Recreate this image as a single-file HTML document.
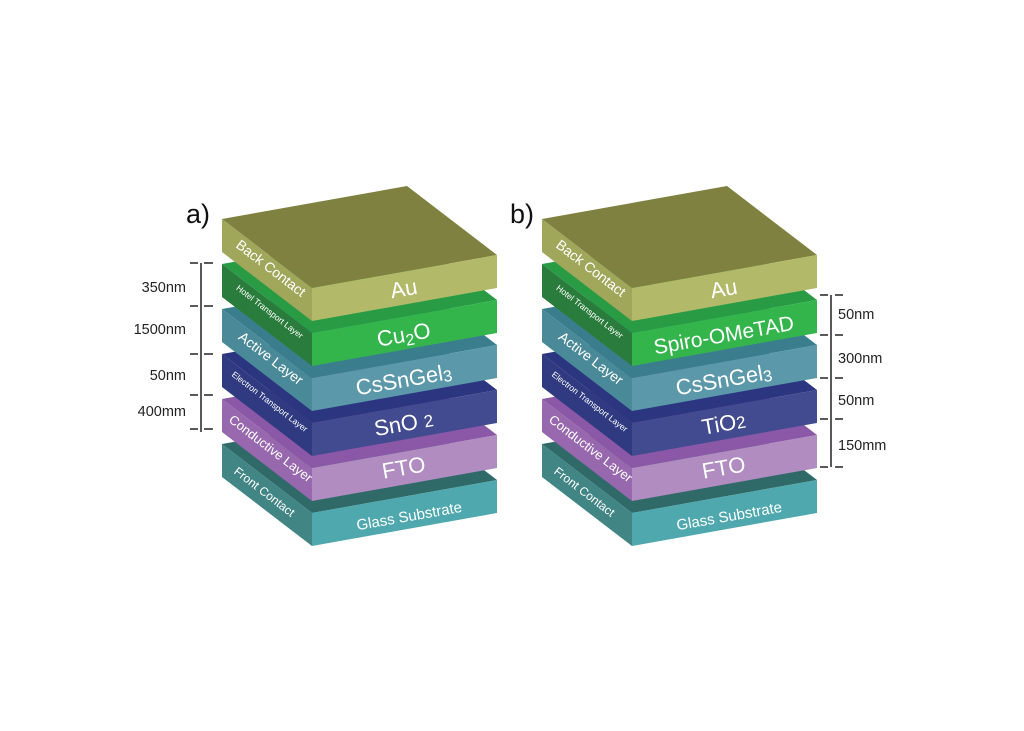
<!DOCTYPE html>
<html><head><meta charset="utf-8"><style>
html,body{margin:0;padding:0;background:#fff;width:1024px;height:731px;overflow:hidden}
svg{display:block}
text{font-family:"Liberation Sans",sans-serif;}
.w{fill:#fff}
</style></head><body>
<svg width="1024" height="731" viewBox="0 0 1024 731" xmlns="http://www.w3.org/2000/svg">
<defs>
<g id="g6">
  <!-- Glass Y=513 -->
  <polygon points="312,513 497,480 407,411 222,444" fill="#2f6a68"/>
  <polygon points="222,444 312,513 312,546 222,477" fill="#418584"/>
  <polygon points="312,513 497,480 497,513 312,546" fill="#4ea8ae"/>
  <!-- FTO Y=468 -->
  <polygon points="312,468 497,435 407,366 222,399" fill="#8a58a6"/>
  <polygon points="222,399 312,468 312,501 222,432" fill="#9868ae"/>
  <polygon points="312,468 497,435 497,468 312,501" fill="#b08cc0"/>
  <!-- SnO2 Y=423 -->
  <polygon points="312,423 497,390 407,321 222,354" fill="#2c3580"/>
  <polygon points="222,354 312,423 312,456 222,387" fill="#2f3a80"/>
  <polygon points="312,423 497,390 497,423 312,456" fill="#434b90"/>
  <!-- CsSnGeI3 Y=378 -->
  <polygon points="312,378 497,345 407,276 222,309" fill="#3a7e8e"/>
  <polygon points="222,309 312,378 312,411 222,342" fill="#4a8a98"/>
  <polygon points="312,378 497,345 497,378 312,411" fill="#5b98aa"/>
  <!-- Cu2O Y=333 -->
  <polygon points="312,333 497,300 407,231 222,264" fill="#2a9b45"/>
  <polygon points="222,264 312,333 312,366 222,297" fill="#2a7c3c"/>
  <polygon points="312,333 497,300 497,333 312,366" fill="#33b54c"/>
  <!-- Au Y=288 -->
  <polygon points="312,288 497,255 407,186 222,219" fill="#7e8140"/>
  <polygon points="222,219 312,288 312,321 222,252" fill="#a0a65a"/>
  <polygon points="312,288 497,255 497,288 312,321" fill="#b2ba6a"/>
  <!-- left-face labels -->
  <text class="w" font-size="14" text-anchor="middle" transform="translate(268,272) rotate(37.5)">Back Contact</text>
  <text class="w" font-size="8.5" text-anchor="middle" transform="translate(268,314) rotate(37.5)">Hotel Transport Layer</text>
  <text class="w" font-size="14" text-anchor="middle" transform="translate(268,362) rotate(37.5)">Active Layer</text>
  <text class="w" font-size="8.5" text-anchor="middle" transform="translate(268,404) rotate(37.5)">Electron Transport Layer</text>
  <text class="w" font-size="13" text-anchor="middle" transform="translate(268,452) rotate(37.5)">Conductive Layer</text>
  <text class="w" font-size="12" text-anchor="middle" transform="translate(262,495) rotate(37.5)">Front Contact</text>
  <text class="w" font-size="15" text-anchor="middle" transform="translate(410,521) rotate(-10)">Glass Substrate</text>
  <text class="w" font-size="22" text-anchor="middle" transform="translate(405,475) rotate(-10)">FTO</text>
</g>
</defs>

<!-- a -->
<use href="#g6"/>
<text font-size="27" x="186" y="223" fill="#111">a)</text>
<text class="w" font-size="22" text-anchor="middle" transform="translate(405,296) rotate(-10)">Au</text>
<text class="w" font-size="22" text-anchor="middle" transform="translate(405,342) rotate(-10)">Cu<tspan font-size="16" dy="4">2</tspan><tspan dy="-4">O</tspan></text>
<text class="w" font-size="22" text-anchor="middle" transform="translate(405,387) rotate(-10)">CsSnGel<tspan font-size="16" dy="2">3</tspan></text>
<text class="w" font-size="22" text-anchor="middle" transform="translate(405,431) rotate(-10)">SnO <tspan font-size="17">2</tspan></text>

<g stroke="#222" stroke-width="1.5">
  <line x1="201" y1="263" x2="201" y2="432"/>
  <line x1="190" y1="263" x2="198" y2="263"/><line x1="204" y1="263" x2="213" y2="263"/>
  <line x1="190" y1="306" x2="198" y2="306"/><line x1="204" y1="306" x2="213" y2="306"/>
  <line x1="190" y1="354" x2="198" y2="354"/><line x1="204" y1="354" x2="213" y2="354"/>
  <line x1="190" y1="395" x2="198" y2="395"/><line x1="204" y1="395" x2="213" y2="395"/>
  <line x1="190" y1="429" x2="198" y2="429"/><line x1="204" y1="429" x2="213" y2="429"/>
</g>
<g font-size="14.5" fill="#222" text-anchor="end">
  <text x="186" y="292">350nm</text>
  <text x="186" y="334">1500nm</text>
  <text x="186" y="380">50nm</text>
  <text x="186" y="416">400mm</text>
</g>

<!-- b -->
<use href="#g6" transform="translate(320,0)"/>
<text font-size="27" x="510" y="223" fill="#111">b)</text>
<text class="w" font-size="22" text-anchor="middle" transform="translate(725,296) rotate(-10)">Au</text>
<text class="w" font-size="21" text-anchor="middle" transform="translate(725,342) rotate(-10)">Spiro-OMeTAD</text>
<text class="w" font-size="22" text-anchor="middle" transform="translate(725,387) rotate(-10)">CsSnGel<tspan font-size="16" dy="2">3</tspan></text>
<text class="w" font-size="22" text-anchor="middle" transform="translate(725,431) rotate(-10)">TiO<tspan font-size="17">2</tspan></text>

<g stroke="#222" stroke-width="1.5">
  <line x1="831" y1="295" x2="831" y2="467"/>
  <line x1="820" y1="295" x2="828" y2="295"/><line x1="835" y1="295" x2="843" y2="295"/>
  <line x1="820" y1="335" x2="828" y2="335"/><line x1="835" y1="335" x2="843" y2="335"/>
  <line x1="820" y1="378" x2="828" y2="378"/><line x1="835" y1="378" x2="843" y2="378"/>
  <line x1="820" y1="419" x2="828" y2="419"/><line x1="835" y1="419" x2="843" y2="419"/>
  <line x1="820" y1="467" x2="828" y2="467"/><line x1="835" y1="467" x2="843" y2="467"/>
</g>
<g font-size="14.5" fill="#222">
  <text x="838" y="319">50nm</text>
  <text x="838" y="363">300nm</text>
  <text x="838" y="405">50nm</text>
  <text x="838" y="450">150mm</text>
</g>
</svg>
</body></html>
